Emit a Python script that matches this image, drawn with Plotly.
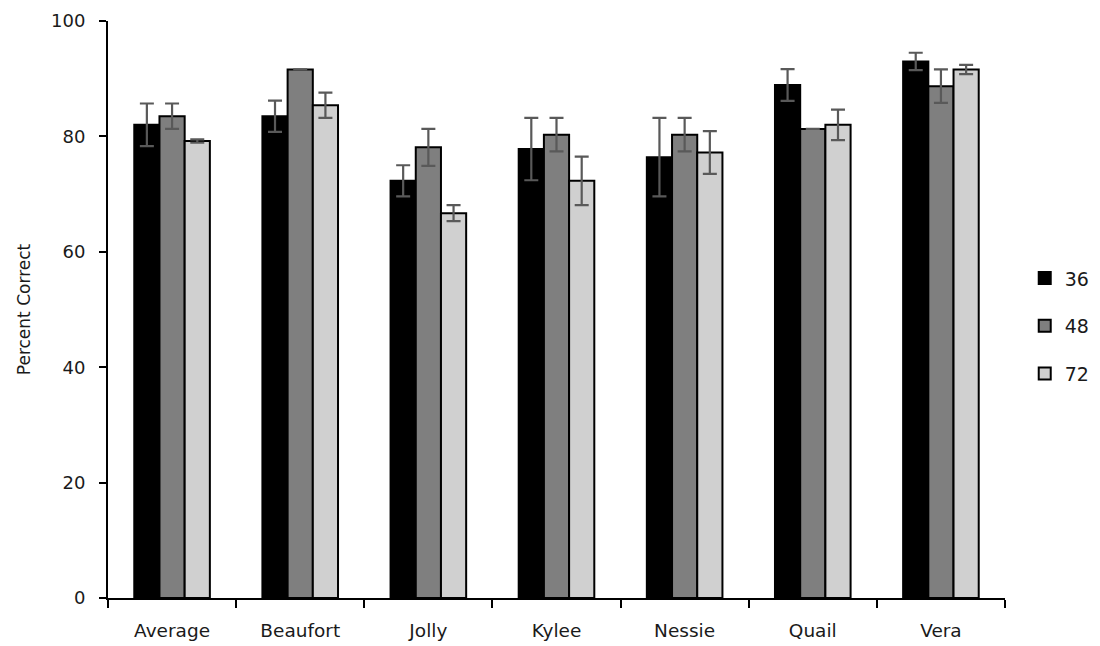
import plotly.graph_objects as go

categories = ["Average", "Beaufort", "Jolly", "Kylee", "Nessie", "Quail", "Vera"]
series_names = ["36", "48", "72"]
values_36 = [82.0, 83.5, 72.3, 77.8, 76.4, 88.9, 93.0]
values_48 = [83.5, 91.6, 78.1, 80.3, 80.3, 81.3, 88.7]
values_72 = [79.2, 85.4, 66.7, 72.3, 77.2, 82.0, 91.6]
err_36 = [3.7, 2.7, 2.7, 5.4, 6.8, 2.75, 1.5]
err_48 = [2.2, 0.0, 3.2, 2.9, 2.9, 0.0, 2.9]
err_72 = [0.3, 2.2, 1.4, 4.2, 3.7, 2.65, 0.8]
colors = ["#000000", "#7f7f7f", "#d0d0d0"]
y_ticks = [0, 20, 40, 60, 80, 100]

FONT = "'DejaVu Sans', sans-serif"
TXT = "#1a1a1a"

fig = go.Figure()
for i, (name, vals, errs, col) in enumerate(zip(series_names, [values_36, values_48, values_72],
                                                 [err_36, err_48, err_72], colors)):
    fig.add_trace(go.Bar(
        x=categories, y=vals, name=name,
        marker=dict(color=col, line=dict(color="#000000", width=2)),
        error_y=dict(type="data", array=errs, visible=True, color="#595959", thickness=2.2, width=7),
        legendgroup="g" + name,
    ))

# the page body has an 8px margin, so the figure is sized/offset to fill the 1100x646 window
fig.update_layout(
    width=1092, height=638,
    paper_bgcolor="white", plot_bgcolor="white",
    margin=dict(l=100, r=95, t=13, b=48, autoexpand=False),
    barmode="group", bargap=0.41, bargroupgap=0,
    font=dict(family=FONT, size=18, color=TXT),
    legend=dict(x=1.022, y=0.471, xanchor="left", yanchor="middle",
                font=dict(size=19, color=TXT), tracegroupgap=20,
                traceorder="grouped", itemwidth=30, bgcolor="rgba(0,0,0,0)"),
    showlegend=True,
)
fig.update_xaxes(
    automargin=False,
    showline=True, linecolor="#000000", linewidth=2,
    ticks="outside", tickson="boundaries", ticklen=8, tickwidth=2, tickcolor="#000000",
    showgrid=False, tickfont=dict(size=18.5, color=TXT), ticklabelstandoff=15,
)
fig.update_yaxes(
    automargin=False,
    range=[0, 100], tickvals=y_ticks, showline=True, linecolor="#000000", linewidth=2,
    ticks="outside", ticklen=7, tickwidth=2, tickcolor="#000000",
    showgrid=False, zeroline=False, tickfont=dict(size=18, color=TXT),
    ticklabelstandoff=10,
    title=dict(text="Percent Correct", font=dict(size=17, color=TXT), standoff=16),
)

fig.write_html("out.html")
